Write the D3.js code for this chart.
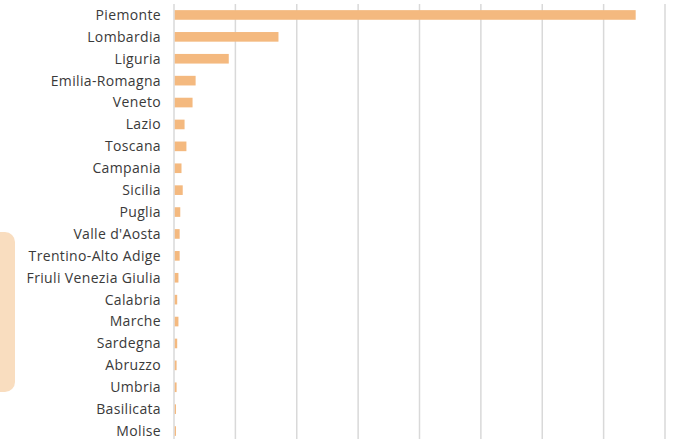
<!DOCTYPE html>
<html>
<head>
<meta charset="utf-8">
<script src="https://cdn.jsdelivr.net/npm/d3@7"></script>
<style>
  body { margin: 0; background: #fff; }
  svg { display: block; }
</style>
</head>
<body>
<div id="chart"></div>
<script>
// Regions, top to bottom
const regions = ["Piemonte", "Lombardia", "Liguria", "Emilia-Romagna", "Veneto", "Lazio",
    "Toscana", "Campania", "Sicilia", "Puglia", "Valle d'Aosta", "Trentino-Alto Adige",
    "Friuli Venezia Giulia", "Calabria", "Marche", "Sardegna", "Abruzzo", "Umbria",
    "Basilicata", "Molise"];
// Values (one gridline = 100)
const values = [751, 169, 88, 34, 29, 16, 19, 11, 13, 9, 8, 8, 6, 4, 6, 4, 3, 3, 2, 2];
const gridTicks = [0, 100, 200, 300, 400, 500, 600, 700, 800];

const width = 677, height = 439;

let svg = d3.select("#chart")
    .append("svg")
    .attr("width", width)
    .attr("height", height);

// decorative tab on the left edge
svg.append("path")
    .attr("d", "M0,232 H5 A10,10 0 0 1 15,242 V382 A10,10 0 0 1 5,392 H0 Z")
    .style("fill", "#f9ddbf");

let x = d3.scaleLinear()
    .domain([0, 800])
    .range([174, 665]);

let y = d3.scaleBand()
    .domain(regions)
    .range([4, 442])
    .paddingInner(0.56)
    .paddingOuter(0.28);

// vertical gridlines
svg.append("g")
    .selectAll("line")
    .data(gridTicks)
    .enter()
    .append("line")
    .attr("x1", d => x(d))
    .attr("x2", d => x(d))
    .attr("y1", 4)
    .attr("y2", height)
    .style("stroke", "#d9d9d9")
    .style("stroke-width", 1.5);

// bars
svg.append("g")
    .selectAll("rect")
    .data(regions)
    .enter()
    .append("rect")
    .attr("x", x(0) + 0.75)
    .attr("y", d => y(d))
    .attr("width", (d, i) => x(values[i]) - x(0))
    .attr("height", y.bandwidth())
    .style("fill", "#f4b97f");

// category labels
svg.append("g")
    .selectAll("text")
    .data(regions)
    .enter()
    .append("text")
    .attr("x", 161)
    .attr("y", d => y(d) + y.bandwidth() / 2)
    .attr("dy", "0.35em")
    .style("text-anchor", "end")
    .style("font-family", "'Open Sans', sans-serif")
    .style("font-size", "14px")
    .style("letter-spacing", "0.35px")
    .style("fill", "#3a3a3a")
    .text(d => d);
</script>
</body>
</html>
